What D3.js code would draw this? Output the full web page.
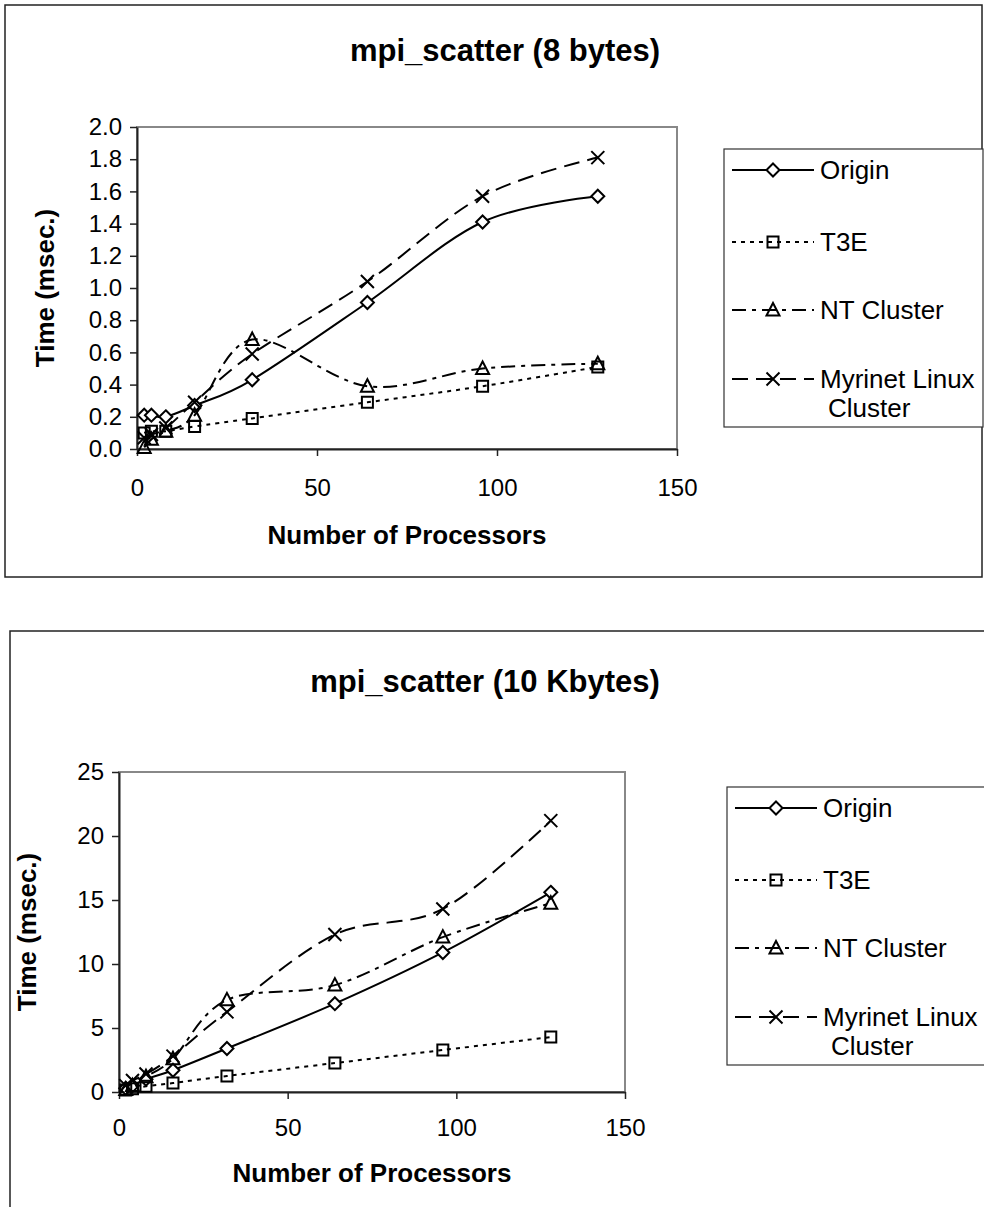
<!DOCTYPE html>
<html>
<head>
<meta charset="utf-8">
<script src="https://cdn.jsdelivr.net/npm/d3@7"></script>
<style>
  body { margin: 0; background: #fff; }
  text { font-family: "Liberation Sans", Arial, sans-serif; fill: #000; }
</style>
</head>
<body>
<div id="chart"></div>
<script>
// processors on the x axis
const procs = [2, 4, 8, 16, 32, 64, 96, 128];
const seriesNames = ["Origin", "T3E", "NT Cluster", "Myrinet Linux Cluster"];
const xTicks = [0, 50, 100, 150];

// mpi_scatter (8 bytes), msec
const origin8 = [0.21, 0.21, 0.20, 0.27, 0.43, 0.91, 1.41, 1.57];
const t3e8 = [0.10, 0.11, 0.11, 0.14, 0.19, 0.29, 0.39, 0.51];
const nt8 = [0.01, 0.06, 0.11, 0.21, 0.68, 0.39, 0.50, 0.53];
const myri8 = [0.07, 0.09, 0.13, 0.29, 0.59, 1.04, 1.57, 1.81];
const yTicks8 = [0, 0.2, 0.4, 0.6, 0.8, 1.0, 1.2, 1.4, 1.6, 1.8, 2.0];

// mpi_scatter (10 Kbytes), msec
const origin10k = [0.3, 0.5, 1.0, 1.7, 3.4, 6.9, 10.9, 15.6];
const t3e10k = [0.15, 0.25, 0.45, 0.7, 1.25, 2.26, 3.28, 4.29];
const nt10k = [0.2, 0.5, 1.2, 2.6, 7.2, 8.35, 12.1, 14.75];
const myri10k = [0.5, 0.9, 1.4, 2.8, 6.26, 12.3, 14.3, 21.2];
const yTicks10k = [0, 5, 10, 15, 20, 25];

// line/marker look per series
const looks = [
    { dash: null, marker: "diamond" },
    { dash: "4,5", marker: "square" },
    { dash: "14,6,4,6", marker: "triangle" },
    { dash: "16,8", marker: "cross" }
];

const svg = d3.select("#chart").append("svg")
    .attr("width", 984)
    .attr("height", 1207);

const markerPath = (type) => {
    const p = d3.path();
    if (type === "diamond") {
        p.moveTo(0, -6.5); p.lineTo(6.5, 0); p.lineTo(0, 6.5); p.lineTo(-6.5, 0); p.closePath();
    } else if (type === "square") {
        p.rect(-5.5, -5.5, 11, 11);
    } else if (type === "triangle") {
        p.moveTo(0, -7); p.lineTo(6.5, 5.5); p.lineTo(-6.5, 5.5); p.closePath();
    } else {
        p.moveTo(-6.5, -6.5); p.lineTo(6.5, 6.5);
        p.moveTo(6.5, -6.5); p.lineTo(-6.5, 6.5);
    }
    return p.toString();
};

function drawMarker(g, type, x, y) {
    g.append("path")
        .attr("d", markerPath(type))
        .attr("transform", `translate(${x},${y})`)
        .attr("fill", type === "diamond" ? "#fff" : "none")
        .attr("stroke", "#000")
        .attr("stroke-width", 2);
}

function drawChart(cfg) {
    const g = svg.append("g");
    const b = cfg.box, p = cfg.plot, lg = cfg.legend;

    // outer chart frame
    g.append("rect")
        .attr("x", b.x).attr("y", b.y).attr("width", b.w).attr("height", b.h)
        .attr("fill", "none").attr("stroke", "#222").attr("stroke-width", 1.5);

    g.append("text")
        .attr("x", cfg.titleX).attr("y", cfg.titleY).attr("dy", "0.35em")
        .attr("text-anchor", "middle")
        .style("font-size", "31px").style("font-weight", "bold")
        .text(cfg.title);

    var x = d3.scaleLinear().domain([0, 150]).range([p.left, p.right]);
    var y = d3.scaleLinear().domain([0, cfg.yMax]).range([p.bottom, p.top]);

    // plot area border (grey)
    g.append("rect")
        .attr("x", p.left).attr("y", p.top)
        .attr("width", p.right - p.left).attr("height", p.bottom - p.top)
        .attr("fill", "none").attr("stroke", "#888").attr("stroke-width", 2);

    const yAxis = g.append("g")
        .attr("transform", `translate(${p.left},0)`)
        .call(d3.axisLeft(y).tickValues(cfg.yTicks).tickFormat(cfg.yFormat)
            .tickSize(7).tickSizeOuter(0).tickPadding(8));
    const xAxis = g.append("g")
        .attr("transform", `translate(0,${p.bottom})`)
        .call(d3.axisBottom(x).tickValues(xTicks).tickFormat(d3.format("d"))
            .tickSize(7).tickSizeOuter(0).tickPadding(0));
    [yAxis, xAxis].forEach(a => {
        a.select(".domain").attr("stroke", "#222").attr("stroke-width", 2);
        a.selectAll(".tick line").attr("stroke", "#222").attr("stroke-width", 1.5);
        a.selectAll(".tick text")
            .style("font-size", "24px")
            .style("font-family", "'Liberation Sans', Arial, sans-serif")
            .attr("fill", "#000");
    });
    xAxis.selectAll(".tick text").attr("y", cfg.xLabelY - p.bottom).attr("dy", "0.35em");

    g.append("text")
        .attr("x", (p.left + p.right) / 2).attr("y", cfg.xTitleY).attr("dy", "0.35em")
        .attr("text-anchor", "middle")
        .style("font-size", "26px").style("font-weight", "bold")
        .text("Number of Processors");

    g.append("text")
        .attr("transform", `translate(${cfg.yTitleX},${(p.top + p.bottom) / 2}) rotate(-90)`)
        .attr("dy", "0.35em")
        .attr("text-anchor", "middle")
        .style("font-size", "26px").style("font-weight", "bold")
        .text("Time (msec.)");

    // smoothed lines like Excel
    var valueLine = d3.line()
        .x((d) => x(d[0]))
        .y((d) => y(d[1]))
        .curve(d3.curveCardinal.tension(0));

    cfg.series.forEach((vals, i) => {
        const pts = procs.map((n, j) => [n, vals[j]]);
        g.append("path")
            .datum(pts)
            .attr("fill", "none")
            .attr("stroke", "#000")
            .attr("stroke-width", 2)
            .attr("stroke-dasharray", looks[i].dash)
            .attr("d", valueLine);
    });
    cfg.series.forEach((vals, i) => {
        procs.forEach((n, j) => drawMarker(g, looks[i].marker, x(n), y(vals[j])));
    });

    // legend
    g.append("rect")
        .attr("x", lg.x).attr("y", lg.y).attr("width", lg.w).attr("height", lg.h)
        .attr("fill", "#fff").attr("stroke", "#333").attr("stroke-width", 1.2);
    const rowOffsets = [21, 93, 161, 230];
    seriesNames.forEach((name, i) => {
        const ry = lg.y + rowOffsets[i];
        g.append("line")
            .attr("x1", lg.x + 8).attr("x2", lg.x + 90)
            .attr("y1", ry).attr("y2", ry)
            .attr("stroke", "#000").attr("stroke-width", 2)
            .attr("stroke-dasharray", looks[i].dash);
        drawMarker(g, looks[i].marker, lg.x + 49, ry);
        const t = g.append("text")
            .attr("x", lg.x + 96).attr("y", ry).attr("dy", "0.35em")
            .style("font-size", "26px");
        if (name === "Myrinet Linux Cluster") {
            t.append("tspan").text("Myrinet Linux");
            t.append("tspan").attr("x", lg.x + 104).attr("dy", "1.12em").text("Cluster");
        } else {
            t.text(name);
        }
    });
}

drawChart({
    title: "mpi_scatter (8 bytes)",
    box: { x: 5, y: 5, w: 977, h: 572 },
    plot: { left: 137, right: 677, top: 127, bottom: 449 },
    legend: { x: 724, y: 149, w: 259, h: 278 },
    titleX: 505, titleY: 50, yTitleX: 45, xLabelY: 488, xTitleY: 535,
    yMax: 2.0, yTicks: yTicks8, yFormat: d3.format(".1f"),
    series: [origin8, t3e8, nt8, myri8]
});

drawChart({
    title: "mpi_scatter (10 Kbytes)",
    box: { x: 10, y: 631, w: 1000, h: 600 },
    plot: { left: 119, right: 625, top: 772, bottom: 1092 },
    legend: { x: 727, y: 787, w: 270, h: 278 },
    titleX: 485, titleY: 681, yTitleX: 27, xLabelY: 1128, xTitleY: 1173,
    yMax: 25, yTicks: yTicks10k, yFormat: d3.format("d"),
    series: [origin10k, t3e10k, nt10k, myri10k]
});
</script>
</body>
</html>
